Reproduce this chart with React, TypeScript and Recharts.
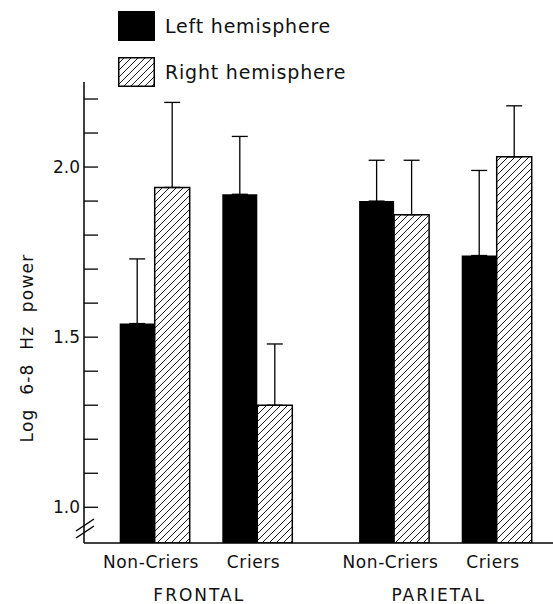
import React from "react";
import { Bar, BarChart, ErrorBar, Legend, XAxis, YAxis } from "recharts";

// values, one entry per region × group in reading order
const regions = ["FRONTAL", "PARIETAL"];
const groups = ["Non-Criers", "Criers"];
const leftMeans = [1.54, 1.92, 1.9, 1.74];
const leftErrors = [0.19, 0.17, 0.12, 0.25];
const rightMeans = [1.94, 1.3, 1.86, 2.03];
const rightErrors = [0.25, 0.18, 0.16, 0.15];
const yTicks = [1.0, 1.1, 1.2, 1.3, 1.4, 1.5, 1.6, 1.7, 1.8, 1.9, 2.0, 2.1, 2.2];
const yLabelled = [1.0, 1.5, 2.0];

const W = 553;
const H = 604;
const FONT = "'DejaVu Sans', sans-serif";
const INK = "#111";

// groups sit 3 bar-widths apart inside a region, regions 7 apart
const GROUP_STEP = 3;
const REGION_STEP = 7;
const X_DOMAIN: [number, number] = [-2.076, 11.637];
const Y_DOMAIN: [number, number] = [0.895, 2.25];

const rows = regions.flatMap((region, r) =>
  groups.map((group, g) => {
    const i = r * groups.length + g;
    return {
      region,
      group,
      pos: r * REGION_STEP + g * GROUP_STEP,
      left: leftMeans[i],
      right: rightMeans[i],
      leftErr: [0, leftErrors[i]],
      rightErr: [0, rightErrors[i]],
    };
  })
);

const regionTicks = regions.map((_, r) => r * REGION_STEP + ((groups.length - 1) * GROUP_STEP) / 2);

function YTick({ x, y, payload }: any) {
  const v = payload.value as number;
  const labelled = yLabelled.some((t) => Math.abs(t - v) < 1e-6);
  return (
    <g>
      <line x1={x} x2={x + 14} y1={y} y2={y} stroke="#000" strokeWidth={1.3} />
      {labelled ? (
        <text x={x - 4} y={y} dy="0.36em" textAnchor="end" fontSize={17} fontFamily={FONT} fill={INK}>
          {v.toFixed(1)}
        </text>
      ) : null}
    </g>
  );
}

function GroupTick({ x, y, payload }: any) {
  const row = rows.find((d) => Math.abs(d.pos - payload.value) < 1e-6);
  return (
    <text x={x - 4} y={y} dy="0.71em" textAnchor="middle" fontSize={17} fontFamily={FONT} fill={INK} letterSpacing={0.6}>
      {row ? row.group : ""}
    </text>
  );
}

function RegionTick({ x, y, payload }: any) {
  const r = regionTicks.findIndex((t) => Math.abs(t - payload.value) < 1e-6);
  return (
    <text x={x - 7} y={y} dy="0.71em" textAnchor="middle" fontSize={17} fontFamily={FONT} fill={INK} letterSpacing={2}>
      {r >= 0 ? regions[r] : ""}
    </text>
  );
}

function YLabel() {
  return (
    <text
      x={27}
      y={348}
      transform="rotate(-90 27 348)"
      textAnchor="middle"
      dominantBaseline="central"
      fontSize={17}
      fontFamily={FONT}
      fill={INK}
      letterSpacing={1.2}
      wordSpacing={7}
    >
      Log 6-8 Hz power
    </text>
  );
}

function LegendContent({ payload }: any) {
  return (
    <div style={{ display: "flex", flexDirection: "column", gap: 16 }}>
      {(payload ?? []).map((p: any) => (
        <div key={p.value} style={{ display: "flex", alignItems: "center", height: 30 }}>
          <svg width={37} height={30} style={{ display: "block" }}>
            <rect x={0.75} y={0.75} width={35.5} height={28.5} fill={p.color} stroke="#000" strokeWidth={1.5} />
          </svg>
          <span style={{ marginLeft: 10, fontSize: 19, fontFamily: FONT, color: INK, letterSpacing: 0.8 }}>
            {p.value}
          </span>
        </div>
      ))}
    </div>
  );
}

export default function App() {
  return (
    <div style={{ position: "absolute", left: 0, top: 0, width: W, height: H, background: "#fff" }}>
      <BarChart
        width={W}
        height={H}
        data={rows}
        margin={{ top: 82, right: 0, bottom: 0, left: 0 }}
        barGap={0}
      >
        <defs>
          <pattern id="hatch" patternUnits="userSpaceOnUse" width={7} height={7}>
            <rect width={7} height={7} fill="#fff" />
            <path d="M-1,1 l2,-2 M0,7 l7,-7 M6,8 l2,-2" stroke="#000" strokeWidth={0.9} />
          </pattern>
        </defs>
        <XAxis
          xAxisId="group"
          type="number"
          dataKey="pos"
          domain={X_DOMAIN}
          allowDataOverflow
          ticks={rows.map((d) => d.pos)}
          interval={0}
          tick={<GroupTick />}
          tickLine={false}
          tickSize={0}
          tickMargin={13}
          height={40}
          axisLine={{ stroke: "#000", strokeWidth: 1.5 }}
        />
        <XAxis
          xAxisId="region"
          type="number"
          dataKey="pos"
          domain={X_DOMAIN}
          allowDataOverflow
          ticks={regionTicks}
          interval={0}
          tick={<RegionTick />}
          tickLine={false}
          tickSize={0}
          tickMargin={6}
          height={21}
          axisLine={false}
        />
        <YAxis
          type="number"
          domain={Y_DOMAIN}
          allowDataOverflow
          ticks={yTicks}
          interval={0}
          width={84}
          tick={<YTick />}
          tickLine={false}
          tickSize={0}
          tickMargin={0}
          axisLine={{ stroke: "#000", strokeWidth: 1.5 }}
          label={<YLabel />}
        />
        <Legend
          layout="vertical"
          align="center"
          verticalAlign="middle"
          content={<LegendContent />}
          wrapperStyle={{ top: 11, left: 118, width: "auto", height: "auto" }}
        />
        <Bar
          xAxisId="group"
          dataKey="left"
          name="Left hemisphere"
          fill="#000"
          barSize={35}
          isAnimationActive={false}
        >
          <ErrorBar dataKey="leftErr" direction="y" width={8} stroke="#000" strokeWidth={1.3} />
        </Bar>
        <Bar
          xAxisId="group"
          dataKey="right"
          name="Right hemisphere"
          fill="url(#hatch)"
          stroke="#000"
          strokeWidth={1.5}
          barSize={35}
          isAnimationActive={false}
        >
          <ErrorBar dataKey="rightErr" direction="y" width={8} stroke="#000" strokeWidth={1.3} />
        </Bar>
      </BarChart>
      {/* axis break mark */}
      <svg width={W} height={H} style={{ position: "absolute", left: 0, top: 0, pointerEvents: "none" }}>
        <line x1={76} y1={531} x2={94} y2={519} stroke="#000" strokeWidth={1.5} />
        <line x1={76} y1={538} x2={94} y2={526} stroke="#000" strokeWidth={1.5} />
      </svg>
    </div>
  );
}
